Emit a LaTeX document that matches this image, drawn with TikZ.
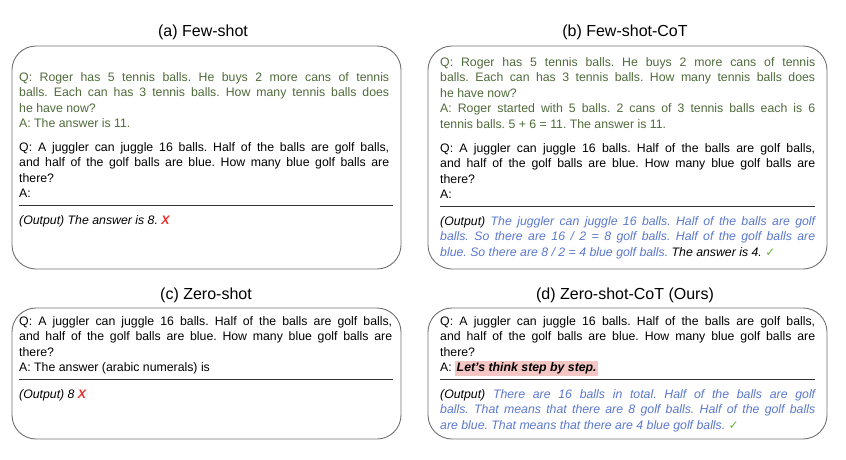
\documentclass[tikz,border=0pt]{standalone}
\usepackage{fontspec}
\setmainfont{Liberation Sans}
\newfontfamily\symfont{DejaVu Sans}
\frenchspacing

\definecolor{exgreen}{HTML}{4F6A3A}
\definecolor{cotblue}{HTML}{5A78CC}
\definecolor{xred}{HTML}{E8302A}
\definecolor{okgreen}{HTML}{6BB33E}
\definecolor{hlpink}{HTML}{F4C6C4}
\definecolor{boxgray}{HTML}{707070}

\newcommand{\wrongmark}{{\color{xred}\bfseries\itshape X}}
\newcommand{\okmark}{{\color{okgreen}\symfont\fontsize{12}{14}\selectfont ✓}}

\tikzset{
  panel/.style={draw=boxgray, line width=0.9pt, rounded corners=24pt},
  title/.style={inner sep=0pt, font=\fontsize{16}{19}\selectfont},
  para/.style={anchor=base west, inner sep=0pt, align=justify,
    font=\fontsize{12.3}{15.6}\selectfont},
  sepline/.style={draw=black!80, line width=0.9pt}
}

\begin{document}
\begin{tikzpicture}[x=1pt,y=-1pt]
  \useasboundingbox (0,0) rectangle (846,459);

  % panels
  \draw[panel] (12,46) rectangle (401,269);
  \draw[panel] (428,46) rectangle (827,269);
  \draw[panel] (12,308) rectangle (401,439);
  \draw[panel] (428,308) rectangle (827,439);

  % titles
  \node[title] (ttla) at (203,32) {(a) Few-shot};
  \node[title] (ttlb) at (625,32) {(b) Few-shot-CoT};
  \node[title] (ttlc) at (206,295) {(c) Zero-shot};
  \node[title] (ttld) at (625,295) {(d) Zero-shot-CoT (Ours)};

  % (a) few-shot
  \node[para, text=exgreen, text width=370pt] (exa) at (19,81)
    {Q: Roger has 5 tennis balls. He buys 2 more cans of tennis\linebreak
     balls. Each can has 3 tennis balls. How many tennis balls does\linebreak
     he have now?\\A: The answer is 11.};
  \node[para, text width=370pt] (qa) at (19,151)
    {Q: A juggler can juggle 16 balls. Half of the balls are golf balls,\linebreak
     and half of the golf balls are blue. How many blue golf balls are\linebreak
     there?\\A:};
  \coordinate (sepa1) at (19,205.5);
  \coordinate (sepa2) at (393,205.5);
  \draw[sepline] (sepa1) -- (sepa2);
  \node[para, text width=370pt] (outa) at (19,224)
    {\itshape (Output) The answer is 8. \wrongmark};

  % (b) few-shot-cot
  \node[para, text=exgreen, text width=375pt] (exb) at (440,66)
    {Q: Roger has 5 tennis balls. He buys 2 more cans of tennis\linebreak
     balls. Each can has 3 tennis balls. How many tennis balls does\linebreak
     he have now?\\A: Roger started with 5 balls. 2 cans of 3 tennis balls each is 6\linebreak
     tennis balls. 5 + 6 = 11. The answer is 11.};
  \node[para, text width=375pt] (qb) at (440,152)
    {Q: A juggler can juggle 16 balls. Half of the balls are golf balls,\linebreak
     and half of the golf balls are blue. How many blue golf balls are\linebreak
     there?\\A:};
  \coordinate (sepb1) at (440,206);
  \coordinate (sepb2) at (815,206);
  \draw[sepline] (sepb1) -- (sepb2);
  \node[para, text width=375pt] (outb) at (440,225)
    {\itshape (Output) {\color{cotblue}The juggler can juggle 16 balls. Half of the balls are golf\linebreak
     balls. So there are 16 / 2 = 8 golf balls. Half of the golf balls are\linebreak
     blue. So there are 8 / 2 = 4 blue golf balls.} The answer is 4. \okmark};

  % (c) zero-shot
  \node[para, text width=373pt] (qc) at (19,325)
    {Q: A juggler can juggle 16 balls. Half of the balls are golf balls,\linebreak
     and half of the golf balls are blue. How many blue golf balls are\linebreak
     there?\\A: The answer (arabic numerals) is};
  \coordinate (sepc1) at (19,379);
  \coordinate (sepc2) at (393,379);
  \draw[sepline] (sepc1) -- (sepc2);
  \node[para, text width=373pt] (outc) at (19,398)
    {\itshape (Output) 8 \wrongmark};

  % (d) zero-shot-cot
  \node[para, text width=375pt] (qd) at (440,325)
    {Q: A juggler can juggle 16 balls. Half of the balls are golf balls,\linebreak
     and half of the golf balls are blue. How many blue golf balls are\linebreak
     there?\\A: {\setlength{\fboxsep}{1.5pt}\colorbox{hlpink}{\bfseries\itshape Let's think step by step.}}};
  \coordinate (sepd1) at (440,379);
  \coordinate (sepd2) at (815,379);
  \draw[sepline] (sepd1) -- (sepd2);
  \node[para, text width=375pt] (outd) at (440,398)
    {\itshape (Output) {\color{cotblue}There are 16 balls in total. Half of the balls are golf\linebreak
     balls. That means that there are 8 golf balls. Half of the golf balls\linebreak
     are blue. That means that there are 4 blue golf balls.} \okmark};
\end{tikzpicture}
\end{document}
